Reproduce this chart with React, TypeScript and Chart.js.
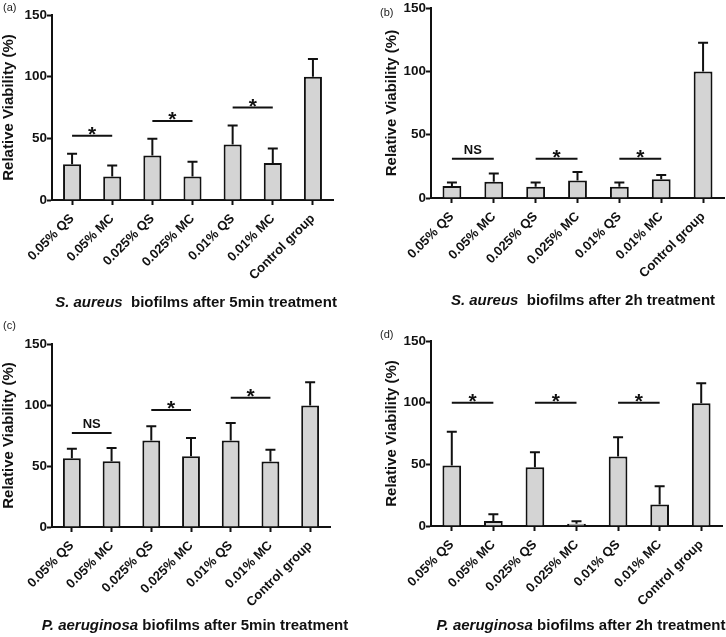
import React, { useEffect, useRef } from 'react';
import { Chart, registerables } from 'chart.js';

Chart.register(...registerables);

const FONT = "'Liberation Sans', Arial, Helvetica, sans-serif";

// ---- data ----
const categories = ['0.05% QS', '0.05% MC', '0.025% QS', '0.025% MC', '0.01% QS', '0.01% MC', 'Control group'];
const yTicks = [0, 50, 100, 150];

const valuesA = [29, 19, 36, 19, 45, 30, 100];
const errorsA = [8.5, 9, 13.6, 12, 15.4, 11.8, 14.4];
const sigHeightsA = [52, 64, 75];
const sigLabelsA = ['*', '*', '*'];

const valuesB = [9.4, 12.8, 8.9, 13.9, 8.9, 14.9, 100];
const errorsB = [2.9, 6.6, 3.4, 6.6, 3.4, 3.2, 22.7];
const sigHeightsB = [31, 31, 31];
const sigLabelsB = ['NS', '*', '*'];

const valuesC = [56.3, 53.8, 71, 57.9, 71, 53.6, 99.5];
const errorsC = [7.9, 11, 11.5, 15.1, 14.2, 9.8, 19.1];
const sigHeightsC = [77, 96, 106];
const sigLabelsC = ['NS', '*', '*'];

const valuesD = [49.1, 4.1, 47.7, 1.9, 56.4, 17.4, 99.5];
const errorsD = [27.4, 5.4, 12, 1.9, 15.5, 14.9, 16.3];
const sigHeightsD = [100, 100, 100];
const sigLabelsD = ['*', '*', '*'];

const sigPairs = [[0, 1], [2, 3], [4, 5]];

const titleA = [{ t: 'S. aureus', i: true }, { t: '  biofilms after 5min treatment', i: false }];
const titleB = [{ t: 'S. aureus', i: true }, { t: '  biofilms after 2h treatment', i: false }];
const titleC = [{ t: 'P. aeruginosa', i: true }, { t: ' biofilms after 5min treatment', i: false }];
const titleD = [{ t: 'P. aeruginosa', i: true }, { t: ' biofilms after 2h treatment', i: false }];

type Panel = {
  key: string;
  label: string;
  values: number[];
  errors: number[];
  sigHeights: number[];
  sigLabels: string[];
  title: { t: string; i: boolean }[];
  box: { x: number; y: number; w: number; h: number };
  padL: number; yW: number; top: number; bottom: number; padR: number;
  titleY: number; titleX: number; labelX: number; labelY: number;
};

const panels: Panel[] = [
  { key: 'a', label: '(a)', values: valuesA, errors: errorsA, sigHeights: sigHeightsA, sigLabels: sigLabelsA, title: titleA,
    box: { x: 0, y: 0, w: 363, h: 318 }, padL: 0, yW: 52, top: 15, bottom: 200, padR: 30, titleY: 303, titleX: 196, labelX: 3, labelY: 8 },
  { key: 'b', label: '(b)', values: valuesB, errors: errorsB, sigHeights: sigHeightsB, sigLabels: sigLabelsB, title: titleB,
    box: { x: 363, y: 0, w: 363, h: 318 }, padL: 20, yW: 48, top: 7, bottom: 198, padR: 2, titleY: 301, titleX: 220, labelX: 17, labelY: 13 },
  { key: 'c', label: '(c)', values: valuesC, errors: errorsC, sigHeights: sigHeightsC, sigLabels: sigLabelsC, title: titleC,
    box: { x: 0, y: 318, w: 363, h: 319 }, padL: 0, yW: 52, top: 26, bottom: 209, padR: 33, titleY: 308, titleX: 195, labelX: 3, labelY: 8 },
  { key: 'd', label: '(d)', values: valuesD, errors: errorsD, sigHeights: sigHeightsD, sigLabels: sigLabelsD, title: titleD,
    box: { x: 363, y: 318, w: 363, h: 319 }, padL: 20, yW: 48, top: 23, bottom: 208, padR: 4, titleY: 308, titleX: 218, labelX: 17, labelY: 17 },
];

function PanelChart({ p }: { p: Panel }) {
  const ref = useRef<HTMLCanvasElement | null>(null);
  useEffect(() => {
    if (!ref.current) return;
    const extras = {
      id: 'extras' + p.key,
      afterDatasetsDraw(chart: any) {
        const ctx = chart.ctx;
        const xs = chart.scales.x;
        const ys = chart.scales.y;
        const meta = chart.getDatasetMeta(0);
        ctx.save();
        ctx.strokeStyle = '#111';
        ctx.lineWidth = 2;
        // error bars (upper only)
        meta.data.forEach((el: any, i: number) => {
          const x = el.x;
          const yb = ys.getPixelForValue(p.values[i]);
          const yt = ys.getPixelForValue(p.values[i] + p.errors[i]);
          ctx.beginPath();
          ctx.moveTo(x, yb);
          ctx.lineTo(x, yt);
          ctx.moveTo(x - 5, yt);
          ctx.lineTo(x + 5, yt);
          ctx.stroke();
        });
        // significance lines
        sigPairs.forEach((pr, k) => {
          const x1 = xs.getPixelForValue(pr[0]);
          const x2 = xs.getPixelForValue(pr[1]);
          const y = ys.getPixelForValue(p.sigHeights[k]);
          ctx.beginPath();
          ctx.moveTo(x1, y);
          ctx.lineTo(x2, y);
          ctx.stroke();
          const lab = p.sigLabels[k];
          ctx.fillStyle = '#111';
          ctx.textAlign = 'center';
          ctx.textBaseline = 'alphabetic';
          if (lab === '*') {
            ctx.font = `bold 21px ${FONT}`;
            ctx.fillText(lab, (x1 + x2) / 2, y + 5);
          } else {
            ctx.font = `bold 13px ${FONT}`;
            ctx.fillText(lab, (x1 + x2) / 2, y - 5);
          }
        });
        ctx.restore();
      },
      afterDraw(chart: any) {
        const ctx = chart.ctx;
        ctx.save();
        ctx.fillStyle = '#222';
        ctx.textBaseline = 'middle';
        ctx.textAlign = 'left';
        ctx.font = `11px ${FONT}`;
        ctx.fillText(p.label, p.labelX, p.labelY);
        // x-axis title with mixed italic
        ctx.fillStyle = '#111';
        const fonts = p.title.map((s) => `${s.i ? 'italic ' : ''}bold 15px ${FONT}`);
        let total = 0;
        const widths = p.title.map((s, i) => {
          ctx.font = fonts[i];
          const w = ctx.measureText(s.t).width;
          total += w;
          return w;
        });
        let x = p.titleX - total / 2;
        p.title.forEach((s, i) => {
          ctx.font = fonts[i];
          ctx.fillText(s.t, x, p.titleY);
          x += widths[i];
        });
        ctx.restore();
      },
    };

    const chart = new Chart(ref.current, {
      type: 'bar',
      data: {
        labels: categories,
        datasets: [
          {
            data: p.values,
            backgroundColor: '#d4d4d4',
            borderColor: '#111',
            borderWidth: 2,
            barPercentage: 0.45,
            categoryPercentage: 1,
          },
        ],
      },
      options: {
        animation: false,
        responsive: false,
        devicePixelRatio: 1,
        layout: { padding: { left: p.padL, top: p.top, right: p.padR, bottom: 0 } },
        plugins: { legend: { display: false }, tooltip: { enabled: false } },
        scales: {
          x: {
            offset: true,
            grid: { display: true, drawOnChartArea: false, drawTicks: true, tickLength: 5, tickColor: '#111', tickWidth: 2, offset: false },
            border: { display: true, color: '#111', width: 2 },
            ticks: { color: '#111', font: { family: FONT, size: 13, weight: 'bold' }, maxRotation: 45, minRotation: 45, padding: 6, autoSkip: false },
            afterFit: (s: any) => { s.height = p.box.h - p.bottom; },
          },
          y: {
            min: 0,
            max: 150,
            afterBuildTicks: (s: any) => { s.ticks = yTicks.map((v) => ({ value: v })); },
            grid: { display: true, drawOnChartArea: false, drawTicks: true, tickLength: 5, tickColor: '#111', tickWidth: 2 },
            border: { display: true, color: '#111', width: 2 },
            ticks: { color: '#111', font: { family: FONT, size: 13.5, weight: 'bold' }, padding: 0 },
            title: { display: true, text: 'Relative Viability (%)', color: '#111', font: { family: FONT, size: 15, weight: 'bold' }, padding: 0 },
            afterFit: (s: any) => { s.width = p.yW; },
          },
        },
      },
      plugins: [extras],
    } as any);
    return () => chart.destroy();
  }, [p]);
  return (
    <canvas
      ref={ref}
      width={p.box.w}
      height={p.box.h}
      style={{ position: 'absolute', left: p.box.x, top: p.box.y, width: p.box.w, height: p.box.h }}
    />
  );
}

export default function App() {
  return (
    <div style={{ position: 'fixed', left: 0, top: 0, width: 726, height: 637, background: '#fff' }}>
      {panels.map((p) => (
        <PanelChart key={p.key} p={p} />
      ))}
    </div>
  );
}
